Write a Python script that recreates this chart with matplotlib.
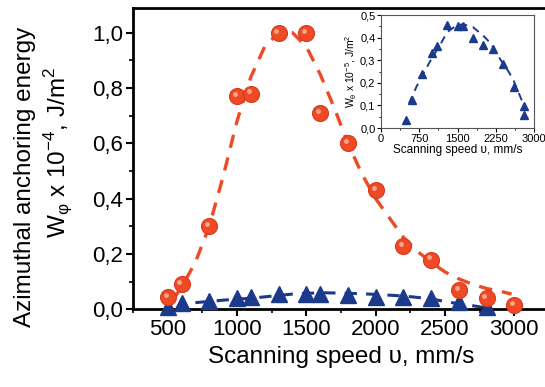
import matplotlib.pyplot as plt
import matplotlib.transforms as mtransforms
from matplotlib.ticker import MultipleLocator, FuncFormatter

plt.rcParams['font.family'] = ['Liberation Sans', 'DejaVu Sans']

# Данные: азимутальная энергия (красные круги), W_phi x 10^-4
speed_phi = [500, 600, 800, 1000, 1100, 1300, 1500, 1600, 1800, 2000, 2200, 2400, 2600, 2800, 3000]
w_phi = [0.045, 0.09, 0.30, 0.77, 0.78, 1.00, 1.00, 0.71, 0.60, 0.43, 0.23, 0.18, 0.07, 0.04, 0.015]

# кривая аппроксимации
fit_phi_x = [540, 600, 700, 800, 900, 1000, 1100, 1200, 1300, 1400, 1500, 1600, 1700, 1800,
             1900, 2000, 2100, 2200, 2300, 2400, 2500, 2600, 2700, 2800, 2900, 2980]
fit_phi_y = [0.035, 0.08, 0.17, 0.30, 0.48, 0.68, 0.84, 0.95, 1.00, 1.00, 0.95, 0.85, 0.73, 0.60,
             0.49, 0.40, 0.33, 0.26, 0.21, 0.17, 0.135, 0.11, 0.09, 0.075, 0.065, 0.055]

# полярная энергия в основном графике (синие треугольники)
speed_th = [500, 600, 800, 1000, 1100, 1300, 1500, 1600, 1800, 2000, 2200, 2400, 2600, 2800]
w_th_main = [0.01, 0.022, 0.03, 0.04, 0.045, 0.055, 0.054, 0.054, 0.05, 0.045, 0.045, 0.04, 0.026, 0.008]
fit_th_main_x = [700, 900, 1100, 1200, 1400, 1600, 1800, 2000, 2200, 2400, 2500, 2600, 2700, 2800]
fit_th_main_y = [0.024, 0.033, 0.04, 0.045, 0.055, 0.06, 0.058, 0.054, 0.048, 0.038, 0.028, 0.02, 0.013, 0.005]

# вставка: W_theta x 10^-5
speed_ins = [500, 600, 800, 1000, 1100, 1300, 1500, 1600, 1800, 2000, 2200, 2400, 2600, 2800, 2800]
w_th_ins = [0.037, 0.125, 0.24, 0.334, 0.365, 0.456, 0.453, 0.45, 0.40, 0.368, 0.349, 0.282, 0.18, 0.096, 0.059]
fit_ins_x = [550, 700, 850, 1000, 1150, 1300, 1450, 1600, 1800, 2000, 2150, 2350, 2500, 2600, 2700, 2800]
fit_ins_y = [0.11, 0.185, 0.25, 0.31, 0.365, 0.425, 0.45, 0.46, 0.447, 0.41, 0.375, 0.30, 0.25, 0.21, 0.155, 0.10]

red = '#EE4A26'
red_hi = '#F9A58A'
blue = '#1C3A8C'

comma = FuncFormatter(lambda v, p: f'{v:.1f}'.replace('.', ','))

fig = plt.figure(figsize=(5.45, 3.87), dpi=100)
ax = fig.add_axes([0.244, 0.2008, 0.7633, 0.779])

ax.plot(fit_phi_x, fit_phi_y, color=red, lw=2.4, ls=(0, (4, 3)), zorder=2)
ax.plot(fit_th_main_x, fit_th_main_y, color=blue, lw=2.2, ls=(0, (4, 3)), zorder=2)
ax.plot(speed_th, w_th_main, '^', color=blue, ms=11, mec=blue, zorder=3, clip_on=False)
ax.plot(speed_phi, w_phi, 'o', color=red, ms=11.5, mec='#D8391A', mew=0.8, zorder=4, clip_on=False)
# блик на шариках
hi = mtransforms.offset_copy(ax.transData, fig=fig, x=-1.5, y=1.5, units='points')
ax.plot(speed_phi, w_phi, 'o', color=red_hi, ms=3.5, mew=0, transform=hi, zorder=5, clip_on=False)

ax.set_xlim(250, 3250)
ax.set_ylim(0, 1.09)
ax.xaxis.set_major_locator(MultipleLocator(500))
ax.xaxis.set_minor_locator(MultipleLocator(250))
ax.yaxis.set_major_locator(MultipleLocator(0.2))
ax.yaxis.set_minor_locator(MultipleLocator(0.1))
ax.yaxis.set_major_formatter(comma)
ax.tick_params(which='major', direction='out', length=5, width=1.5, labelsize=16, pad=2)
ax.tick_params(which='minor', direction='out', length=3, width=1.2)
for s in ax.spines.values():
    s.set_linewidth(2)
    s.set_color('black')

ax.set_xlabel('Scanning speed υ, mm/s', fontsize=17.5, labelpad=4)
fig.text(0.045, 0.543, 'Azimuthal anchoring energy', rotation=90, fontsize=17.5,
         ha='center', va='center')
fig.text(0.108, 0.607, r'W$_{\mathregular{φ}}$ x 10$^{\mathregular{-4}}$, J/m$^{\mathregular{2}}$',
         rotation=90, fontsize=17.5, ha='center', va='center')

# Вставка
axi = fig.add_axes([0.699, 0.669, 0.281, 0.292])
axi.plot(fit_ins_x, fit_ins_y, color=blue, lw=1.4, ls=(0, (4, 3)), zorder=2)
axi.plot(speed_ins, w_th_ins, '^', color=blue, ms=6, zorder=3)
axi.set_xlim(0, 3000)
axi.set_ylim(0, 0.5)
axi.xaxis.set_major_locator(MultipleLocator(750))
axi.xaxis.set_minor_locator(MultipleLocator(375))
axi.yaxis.set_major_locator(MultipleLocator(0.1))
axi.yaxis.set_minor_locator(MultipleLocator(0.05))
axi.yaxis.set_major_formatter(comma)
axi.tick_params(which='major', direction='out', length=3, width=0.8, labelsize=8, pad=1)
axi.tick_params(which='minor', direction='out', length=1.5, width=0.6)
for s in axi.spines.values():
    s.set_linewidth(0.8)
    s.set_color('#555555')
axi.set_xlabel('Scanning speed υ, mm/s', fontsize=8.5, labelpad=0)
axi.set_ylabel(r'W$_{\mathregular{θ}}$ x 10$^{\mathregular{-5}}$, J/m$^{\mathregular{2}}$',
               fontsize=7.5, labelpad=1)

fig.savefig('out.png', dpi=100)
